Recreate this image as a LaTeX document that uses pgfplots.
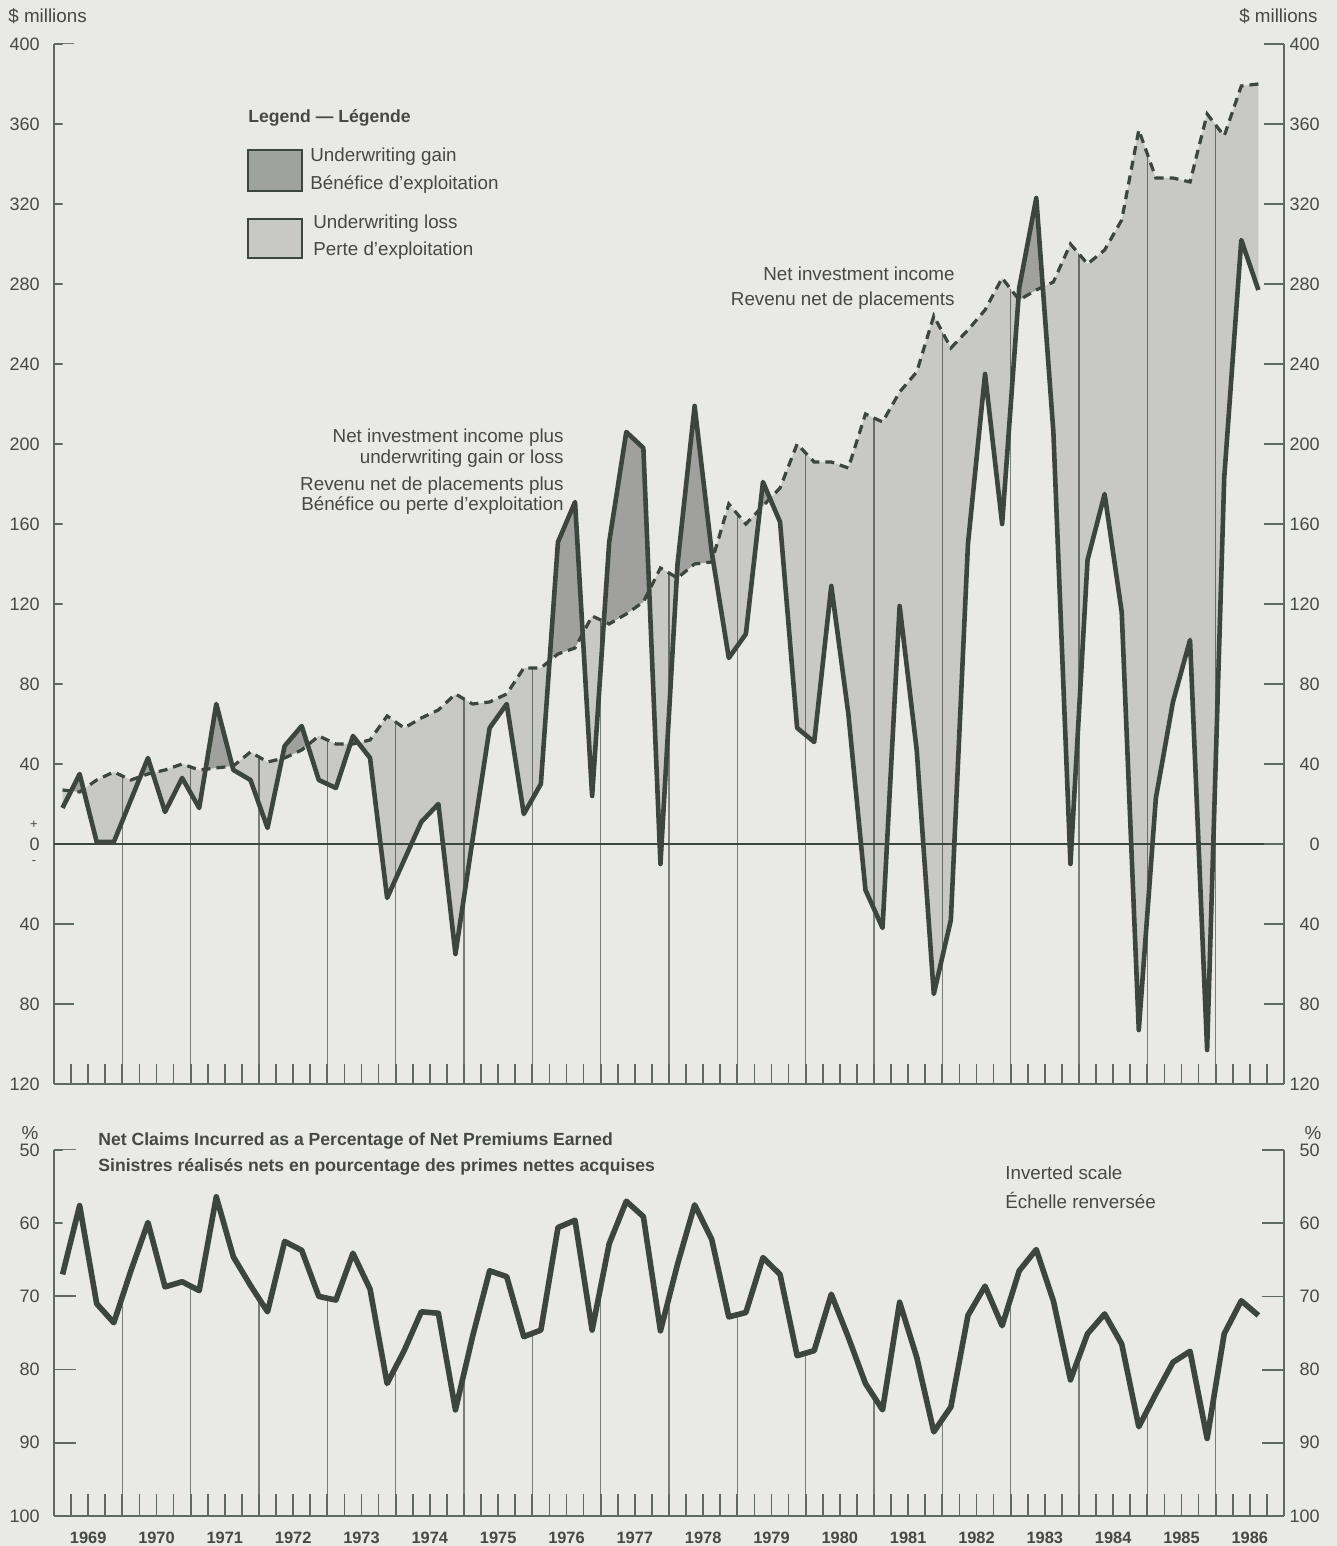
\documentclass[border=0pt]{standalone}
\usepackage{pgfplots}
\pgfplotsset{compat=1.18}
\usepgfplotslibrary{fillbetween}
\usepackage{pgfplotstable}
\usepackage{fontspec}
\setmainfont{Liberation Sans}
\definecolor{paper}{RGB}{233,234,229}
\definecolor{linecol}{RGB}{60,70,60}
\definecolor{axcol}{RGB}{95,105,95}
\definecolor{gridcol}{RGB}{120,126,120}
\definecolor{textcol}{RGB}{70,72,70}
\definecolor{lossfill}{RGB}{200,201,197}
\definecolor{gainfill}{RGB}{160,162,158}

\pgfplotstableread{
i nii tot
0 27 18
1 26 35
2 32 1
3 36 1
4 32 22
5 35 43
6 37 16
7 40 33
8 37 18
9 38 70
10 39 37
11 46 32
12 41 8
13 43 49
14 47 59
15 54 32
16 50 28
17 50 54
18 52 43
19 64 -27
20 58 -8
21 63 11
22 67 20
23 75 -55
24 70 2
25 71 58
26 75 70
27 88 15
28 88 30
29 95 151
30 98 171
31 114 24
32 110 151
33 115 206
34 121 198
35 138 -10
36 133 140
37 140 219
38 141 146
39 170 93
40 160 105
41 169 181
42 178 161
43 200 58
44 191 51
45 191 129
46 188 65
47 215 -23
48 211 -42
49 226 119
50 236 47
51 264 -75
52 248 -38
53 257 150
54 267 235
55 283 160
56 272 278
57 277 323
58 281 206
59 300 -10
60 290 142
61 297 175
62 312 116
63 357 -93
64 333 23
65 333 71
66 331 102
67 365 -103
68 354 183
69 379 302
70 380 277
}\topdata

\pgfplotstableread{
i c
0 67
1 57.6
2 71
3 73.6
4 66.5
5 59.9
6 68.7
7 68
8 69.2
9 56.4
10 64.6
11 68.5
12 72.1
13 62.5
14 63.7
15 70
16 70.5
17 64.1
18 69
19 81.9
20 77.4
21 72.1
22 72.3
23 85.5
24 75.5
25 66.5
26 67.3
27 75.5
28 74.6
29 60.6
30 59.6
31 74.6
32 62.8
33 57
34 59.1
35 74.7
36 65.6
37 57.5
38 62.2
39 72.8
40 72.2
41 64.7
42 67
43 78.1
44 77.4
45 69.7
46 75.6
47 81.9
48 85.5
49 70.8
50 78.3
51 88.5
52 85.1
53 72.6
54 68.6
55 74
56 66.5
57 63.6
58 70.6
59 81.4
60 75.1
61 72.4
62 76.5
63 87.8
64 83.3
65 79
66 77.5
67 89.4
68 75.1
69 70.6
70 72.6
}\claims

\pgfplotsset{
  base/.style={
    scale only axis, width=615pt,
    xmin=-0.5, xmax=71.5,
    axis line style={axcol, line width=1pt, -},
    tick style={axcol, line width=0.9pt},
    tick align=inside,
    major tick length=10pt, minor tick length=10pt,
    ticklabel style={font=\fontsize{9}{10}\selectfont, text=textcol},
  },
}
\newcommand{\lab}{\fontsize{9.4}{11}\selectfont}
\newcommand{\blab}{\bfseries\fontsize{8.8}{10}\selectfont}
\pagecolor{paper}

\begin{document}
\begin{tikzpicture}

% ---------------- top panel ----------------
\begin{axis}[base, at={(27pt,231pt)}, anchor=south west, height=520pt,
  ymin=-120, ymax=400,
  axis x line*=bottom, axis y line*=left,
  xtick={1.5,5.5,...,69.5}, xticklabels={},
  major x tick style={draw=none},
  minor xtick={-0.5,0.5,...,71.5},
  extra x ticks={3.5,7.5,...,67.5}, extra x tick labels={},
  extra x tick style={grid=major},
  major grid style={gridcol, line width=0.7pt},
  ytick={-120,-80,...,400},
  yticklabels={120,80,40,0,40,80,120,160,200,240,280,320,360,400},
  yticklabel style={anchor=east, inner sep=0pt, xshift=-7pt},
]
\addplot[draw=none, name path=nii, forget plot] table[x=i,y=nii]{\topdata};
\addplot[draw=none, name path=tot, forget plot] table[x=i,y=tot]{\topdata};
\addplot[draw=none, name path=cap, forget plot] coordinates {(0,400) (70,400)};
\addplot[fill=paper, draw=none, forget plot] fill between[of=nii and cap];
\addplot[draw=none, forget plot] fill between[of=tot and nii, split,
   every even segment/.style={fill=black, fill opacity=0.14},
   every odd segment/.style={fill=black, fill opacity=0.31}];
\draw[linecol, line width=1.3pt] (axis cs:-0.5,0) -- (axis cs:71.5,0);
\addplot[linecol, line width=1.6pt, dash pattern=on 4.5pt off 3pt, forget plot] table[x=i,y=nii]{\topdata};
\addplot[linecol, line width=2.3pt, line join=round, forget plot] table[x=i,y=tot]{\topdata};
\end{axis}

\begin{axis}[base, at={(27pt,231pt)}, anchor=south west, height=520pt,
  ymin=-120, ymax=400,
  axis x line*=bottom, axis y line*=right,
  x axis line style={draw=none},
  xtick=\empty,
  ytick={-120,-80,...,400},
  yticklabels={120,80,40,0,40,80,120,160,200,240,280,320,360,400},
  yticklabel style={anchor=east, inner sep=0pt, xshift=18pt},
]
\addplot[draw=none, forget plot] coordinates {(0,0) (70,0)};
\end{axis}

% ---------------- bottom panel ----------------
\begin{axis}[base, at={(27pt,15pt)}, anchor=south west, height=183pt,
  ymin=50, ymax=100, y dir=reverse,
  axis x line*=bottom, axis y line*=left,
  xtick={1.5,5.5,...,69.5},
  xticklabels={1969,1970,1971,1972,1973,1974,1975,1976,1977,1978,1979,1980,1981,1982,1983,1984,1985,1986},
  major x tick style={draw=none},
  xticklabel style={font=\bfseries\fontsize{8.2}{9}\selectfont, anchor=north, inner sep=0pt, yshift=-8pt},
  minor xtick={-0.5,0.5,...,71.5},
  minor tick length=11pt,
  extra x ticks={3.5,7.5,...,67.5}, extra x tick labels={},
  extra x tick style={grid=major},
  major grid style={gridcol, line width=0.7pt},
  ytick={50,60,...,100},
  yticklabels={50,60,70,80,90,100},
  major tick length=11pt,
  yticklabel style={anchor=east, inner sep=0pt, xshift=-7pt},
]
\addplot[draw=none, name path=cl, forget plot] table[x=i,y=c]{\claims};
\addplot[draw=none, name path=cap2, forget plot] coordinates {(0,50) (70,50)};
\addplot[fill=paper, draw=none, forget plot] fill between[of=cl and cap2];
\addplot[linecol, line width=2.8pt, line join=round, forget plot] table[x=i,y=c]{\claims};
\end{axis}

\begin{axis}[base, at={(27pt,15pt)}, anchor=south west, height=183pt,
  ymin=50, ymax=100, y dir=reverse,
  axis x line*=bottom, axis y line*=right,
  x axis line style={draw=none},
  xtick=\empty,
  ytick={50,60,...,100},
  yticklabels={50,60,70,80,90,100},
  major tick length=11pt,
  yticklabel style={anchor=east, inner sep=0pt, xshift=18pt},
]
\addplot[draw=none, forget plot] coordinates {(0,60) (70,60)};
\end{axis}

% ---------------- texts ----------------
\begin{scope}[every node/.style={text=textcol, inner sep=0pt}]
\node[anchor=west, font=\lab] at (4pt,765pt) {\$ millions};
\node[anchor=east, font=\lab] at (659pt,765pt) {\$ millions};
\node[font=\fontsize{6.5}{7}\selectfont] at (17pt,360.5pt) {+};
\node[font=\fontsize{6.5}{7}\selectfont] at (17pt,341.5pt) {-};

\node[anchor=west, font=\blab] at (124pt,714pt) {Legend — Légende};
\draw[linecol, line width=1pt, fill=gainfill] (124pt,677.5pt) rectangle (151pt,698pt);
\draw[linecol, line width=1pt, fill=lossfill] (124pt,644pt) rectangle (151pt,663.5pt);
\node[anchor=west, font=\lab] at (155pt,694.5pt) {Underwriting gain};
\node[anchor=west, font=\lab] at (155pt,680.5pt) {Bénéfice d'exploitation};
\node[anchor=west, font=\lab] at (156.5pt,661pt) {Underwriting loss};
\node[anchor=west, font=\lab] at (156.5pt,647.5pt) {Perte d'exploitation};

\node[anchor=east, font=\lab] at (477.5pt,636pt) {Net investment income};
\node[anchor=east, font=\lab] at (477.5pt,622.5pt) {Revenu net de placements};

\node[anchor=east, font=\lab] at (282pt,554pt) {Net investment income plus};
\node[anchor=east, font=\lab] at (282pt,543.5pt) {underwriting gain or loss};
\node[anchor=east, font=\lab] at (282pt,530pt) {Revenu net de placements plus};
\node[anchor=east, font=\lab] at (282pt,520pt) {Bénéfice ou perte d'exploitation};

\node[anchor=west, font=\blab] at (49pt,202.5pt) {Net Claims Incurred as a Percentage of Net Premiums Earned};
\node[anchor=west, font=\blab] at (49pt,189.5pt) {Sinistres réalisés nets en pourcentage des primes nettes acquises};
\node[anchor=west, font=\lab] at (502.5pt,186.5pt) {Inverted scale};
\node[anchor=west, font=\lab] at (502.5pt,173pt) {Échelle renversée};
\node[font=\lab] at (15pt,206.5pt) {\%};
\node[font=\lab] at (656.5pt,206.5pt) {\%};
\end{scope}
\pgfresetboundingbox
\path[use as bounding box] (0pt,0pt) rectangle (668.5pt,773pt);
\end{tikzpicture}
\end{document}
